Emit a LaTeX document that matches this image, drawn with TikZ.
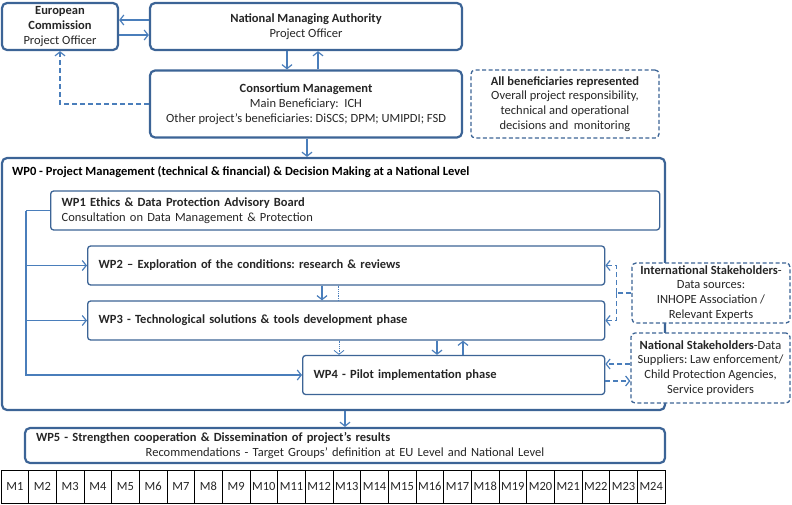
\documentclass[tikz,border=0pt]{standalone}
\usepackage{fontspec}
\setmainfont{Carlito}
\usetikzlibrary{positioning, arrows.meta, calc}
\definecolor{boxblue}{HTML}{3C6496}
\definecolor{arrowblue}{HTML}{4A7EBB}
\definecolor{txtgray}{HTML}{262626}
\frenchspacing

\begin{document}
\begin{tikzpicture}[x=1pt, y=-1pt, font=\fontsize{12.5}{14.8}\selectfont]

        % Styles
        \tikzstyle{mainbox} = [draw=boxblue, line width=2.2pt, fill=white, rounded corners=5pt, inner sep=0pt, align=center, text=txtgray]
        \tikzstyle{wpbox} = [draw=boxblue, line width=1.3pt, fill=white, rounded corners=3pt, inner xsep=11pt, inner ysep=0pt, align=left, anchor=west, text=txtgray]
        \tikzstyle{stakebox} = [draw=boxblue, line width=1.3pt, dashed, dash pattern=on 4pt off 2.5pt, fill=white, rounded corners=4pt, inner sep=0pt, align=center, text=txtgray]
        \tikzstyle{mcell} = [draw=black, line width=0.8pt, minimum width=27.67pt, minimum height=33pt, inner sep=0pt, text=txtgray]
        \tikzstyle{line} = [draw=arrowblue, line width=1.2pt]
        \tikzstyle{conn} = [line, -{Straight Barb[length=4pt,width=10pt]}]
        \tikzstyle{dline} = [line, dashed, dash pattern=on 5pt off 3pt]
        \tikzstyle{dconn} = [conn, dashed, dash pattern=on 5pt off 3pt]
        \tikzstyle{dotconn} = [conn, line width=0.8pt, densely dotted]

        \useasboundingbox (0,0) rectangle (792,504);

        % --- TOP: MANAGEMENT BODIES ---
        \node[mainbox, minimum width=116, minimum height=47] (ec) at (60,26.5) {\textbf{European}\\\textbf{Commission}\\Project Officer};
        \node[mainbox, minimum width=312, minimum height=47] (nma) at (306,26.5) {\textbf{National Managing Authority}\\Project Officer};
        \node[mainbox, minimum width=312, minimum height=67] (cm) at (306,104) {\textbf{Consortium Management}\\Main Beneficiary:\ \ ICH\\Other project’s beneficiaries: DiSCS; DPM; UMIPDI; FSD};
        \node[stakebox, minimum width=188, minimum height=68] (allb) at (565,104) {\textbf{All beneficiaries represented}\\Overall project responsibility,\\technical and operational\\decisions and\ \ monitoring};

        \draw[conn] ([yshift=6.5pt]nma.west) -- ([yshift=6.5pt]ec.east);
        \draw[conn] ([yshift=-8.5pt]ec.east) -- ([yshift=-8.5pt]nma.west);
        \draw[conn] ([xshift=-19pt]nma.south) -- ([xshift=-19pt]cm.north);
        \draw[conn] ([xshift=12pt]cm.north) -- ([xshift=12pt]nma.south);
        \draw[dconn] (cm.west) -| (ec.south);

        % --- WP0: PROJECT MANAGEMENT ---
        \node[mainbox, minimum width=663, minimum height=252] (wp0) at (333.5,284) {};
        \node[anchor=west, inner sep=0pt, font=\fontsize{12.5}{14.8}\selectfont\bfseries] (wp0t) at ([xshift=11pt,yshift=-15pt]wp0.north west) {WP0 - Project Management (technical \& financial) \& Decision Making at a National Level};
        \draw[conn] ([xshift=1pt]cm.south) -- ([xshift=1pt]cm.south |- wp0.north);

        % Work packages inside WP0
        \node[wpbox, text width=587, minimum height=39] (wp1) at (50,210.5) {\textbf{WP1 Ethics \& Data Protection Advisory Board}\\Consultation on Data Management \& Protection};
        \node[wpbox, text width=495, minimum height=39] (wp2) at (87,265.5) {\textbf{WP2 -- Exploration of the conditions: research \& reviews}};
        \node[wpbox, text width=495, minimum height=39] (wp3) at (87,320.5) {\textbf{WP3 - Technological solutions \& tools development phase}};
        \node[wpbox, text width=280, minimum height=39] (wp4) at (302,375) {\textbf{WP4 - Pilot implementation phase}};

        % Bus from WP1
        \coordinate (bus) at ([xshift=-24pt]wp1.west);
        \draw[line] (wp1.west) -- (bus);
        \draw[conn] (bus) |- (wp2.west);
        \draw[conn] (bus) |- (wp3.west);
        \draw[conn] (bus) |- (wp4.west);

        % Between work packages
        \draw[conn] ([xshift=235pt]wp2.south west) -- ([xshift=235pt]wp3.north west);
        \draw[line, line width=0.8pt, densely dotted] ([xshift=251pt]wp2.south west) -- ([xshift=251pt]wp3.north west);
        \draw[dotconn] ([xshift=37pt]wp4.north west |- wp3.south) -- ([xshift=37pt]wp4.north west);
        \draw[conn] ([xshift=135pt]wp4.north west |- wp3.south) -- ([xshift=135pt]wp4.north west);
        \draw[conn] ([xshift=161pt]wp4.north west) -- ([xshift=161pt]wp4.north west |- wp3.south);

        % --- RIGHT: STAKEHOLDERS ---
        \node[stakebox, minimum width=158, minimum height=60] (is) at (711,293) {\textbf{International Stakeholders}-\\Data sources:\\INHOPE Association /\\Relevant Experts};
        \node[stakebox, minimum width=159, minimum height=70] (ns) at (710.5,368) {\textbf{National Stakeholders}-Data\\Suppliers: Law enforcement/\\Child Protection Agencies,\\Service providers};

        \coordinate (issplit) at ([xshift=-15pt]is.west);
        \draw[dline] (is.west) -- (issplit);
        \draw[dconn] (issplit) |- (wp2.east);
        \draw[dconn] (issplit) |- (wp3.east);
        \draw[dconn] ([yshift=11pt]wp4.east -| ns.west) -- ([yshift=11pt]wp4.east);
        \draw[dconn] ([yshift=-6pt]wp4.east) -- ([yshift=-6pt]wp4.east -| ns.west);

        % --- BOTTOM: WP5 AND TIMELINE ---
        \node[mainbox, minimum width=640, minimum height=35, text width=618] (wp5) at (345,445.5) {\makebox[\linewidth][l]{\textbf{WP5 - Strengthen cooperation \& Dissemination of project’s results}}\\Recommendations - Target Groups’ definition at EU Level and National Level};
        \draw[conn] (wp5.north |- wp0.south) -- (wp5.north);

        \foreach \i in {1,...,24} {
            \node[mcell] (m\i) at ({1+27.667*(\i-0.5)},486.5) {M\i};
        }

    \end{tikzpicture}
\end{document}
